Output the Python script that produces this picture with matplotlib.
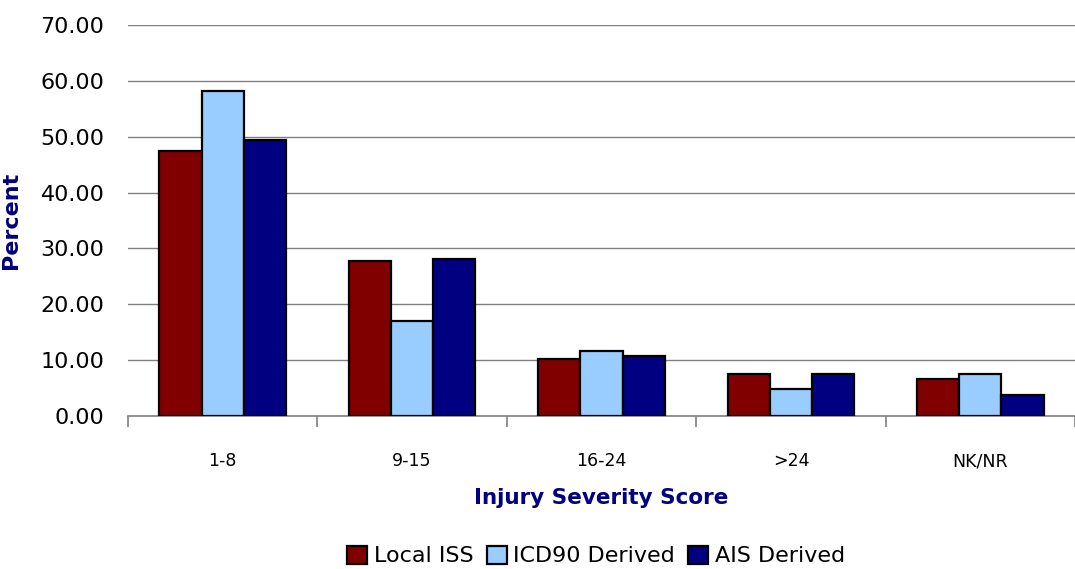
import matplotlib.pyplot as plt
import numpy as np

categories = ['1-8', '9-15', '16-24', '>24', 'NK/NR']
local_iss = [47.4, 27.7, 10.2, 7.5, 6.7]
icd90_derived = [58.2, 17.0, 11.7, 4.8, 7.5]
ais_derived = [49.4, 28.1, 10.7, 7.5, 3.8]

series = [
    ('Local ISS', local_iss, '#800000'),
    ('ICD90 Derived', icd90_derived, '#99ccff'),
    ('AIS Derived', ais_derived, '#000080'),
]

fig = plt.figure(figsize=(10.75, 5.69), dpi=100)
ax = fig.add_axes([128 / 1075, 1 - 416 / 569, (1075 - 128) / 1075, (416 - 25) / 569])

x = np.arange(len(categories))
w = 0.223
for i, (name, vals, col) in enumerate(series):
    ax.bar(x + (i - 1) * w, vals, w, color=col, edgecolor='black', linewidth=1.6,
           label=name, zorder=3)

ax.set_xlim(-0.5, len(categories) - 0.5)
ax.set_ylim(0, 70)
ax.set_yticks(np.arange(0, 71, 10))
ax.set_yticklabels([f'{v:.2f}' for v in np.arange(0, 71, 10)], fontsize=16)
ax.set_xticks(x)
ax.set_xticklabels(categories, fontsize=12.5)
ax.set_xticks(np.arange(-0.5, len(categories)), minor=True)
ax.tick_params(axis='x', which='major', length=0, pad=26)
ax.tick_params(axis='x', which='minor', length=8, color='#808080', width=1.2)
ax.tick_params(axis='y', length=0, pad=17)

ax.grid(axis='y', color='#808080', linewidth=1.0, zorder=0)
for s in ['top', 'right', 'left']:
    ax.spines[s].set_visible(False)
ax.spines['bottom'].set_color('#808080')
ax.spines['bottom'].set_linewidth(1.2)

ax.set_ylabel('Percent', fontsize=16, fontweight='bold', color='#000080')
ax.yaxis.set_label_coords(-0.113, 0.5)
ax.set_xlabel('Injury Severity Score', fontsize=15.5, fontweight='bold', color='#000080', labelpad=13)

fig.legend(loc='center', bbox_to_anchor=(596 / 1075, 1 - 556 / 569), ncol=3, frameon=False,
           fontsize=16, handlelength=0.9, handleheight=0.9, handletextpad=0.3, columnspacing=0.6)

fig.savefig('out.png', dpi=100)
